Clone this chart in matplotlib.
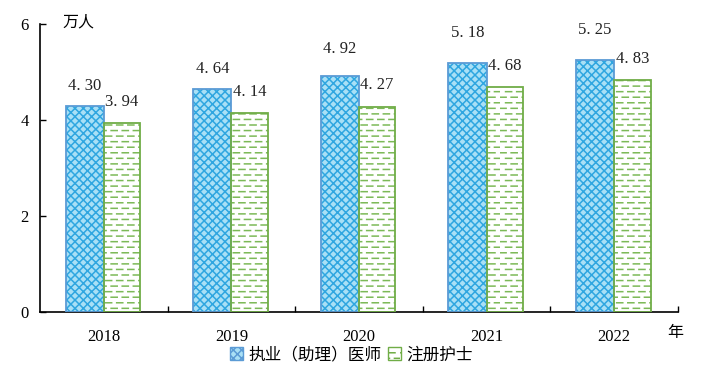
import numpy as np
import matplotlib
matplotlib.use('Agg')
import matplotlib.pyplot as plt
from matplotlib import hatch as mhatch
from matplotlib.patches import Patch

# ---- data ----
years = ['2018', '2019', '2020', '2021', '2022']
doctors = [4.30, 4.64, 4.92, 5.18, 5.25]
nurses = [3.94, 4.14, 4.27, 4.68, 4.83]
series_names = ['执业（助理）医师', '注册护士']
y_ticks = [0, 2, 4, 6]
y_unit = '万人'
x_unit = '年'

# ---- style ----
blue_edge = '#5b9bd5'
blue_face = '#a9e0f6'
blue_hatch = '#2fa6e0'
green_edge = '#70ad47'
green_hatch = '#7cb957'
blue_w, green_w = 0.30, 0.285
blue_off_px = [12, 12, 19, 22, 22]
green_off_px = [13, 13, 14, 13, 13]


# dashed (staggered) horizontal hatch replacing the '-' hatch
class DashedHorizontal(mhatch.HatchPatternBase):
    ndash = 9

    def __init__(self, hatch, density):
        self.num_lines = int((hatch.count('-') + hatch.count('+')) * density)
        self.num_vertices = self.num_lines * self.ndash * 2

    def set_vertices_and_codes(self, vertices, codes):
        steps, stepsize = np.linspace(0.0, 1.0, self.num_lines, False, retstep=True)
        steps += stepsize / 2.
        period = 1.0 / self.ndash
        k = 0
        for i, y in enumerate(steps):
            off = 0.5 * period if i % 2 else 0.0
            for j in range(self.ndash):
                x0 = j * period + off
                vertices[k] = (x0, y)
                vertices[k + 1] = (x0 + 0.55 * period, y)
                codes[k] = matplotlib.path.Path.MOVETO
                codes[k + 1] = matplotlib.path.Path.LINETO
                k += 2


mhatch._hatch_types[:] = [DashedHorizontal if t is mhatch.HorizontalHatch else t
                          for t in mhatch._hatch_types]

plt.rcParams['font.family'] = ['Liberation Serif', 'Noto Sans CJK SC']
plt.rcParams['hatch.linewidth'] = 1.1

fig = plt.figure(figsize=(7.03, 3.81), dpi=100)
ax = fig.add_axes([40 / 703, 1 - 312 / 381, (678 - 40) / 703, (312 - 24) / 381])

x = np.arange(len(years))
# hatched layers
ax.bar(x - blue_w, doctors, width=blue_w, align='edge', facecolor=blue_face,
       edgecolor=blue_hatch, hatch='xxxx', linewidth=0, zorder=2)
ax.bar(x - blue_w, doctors, width=blue_w, align='edge', facecolor='none',
       edgecolor=blue_edge, linewidth=1.3, zorder=3)
ax.bar(x, nurses, width=green_w, align='edge', facecolor='white',
       edgecolor=green_hatch, hatch='---', linewidth=0, zorder=2)
ax.bar(x, nurses, width=green_w, align='edge', facecolor='none',
       edgecolor=green_edge, linewidth=1.3, zorder=3)

for i in range(len(years)):
    ax.annotate(f'{doctors[i]:.2f}'.replace('.', '. '), (x[i] - blue_w / 2, doctors[i]),
                xytext=(0, blue_off_px[i] * 0.72), textcoords='offset points',
                ha='center', va='bottom', fontsize=12, color='#222222')
    ax.annotate(f'{nurses[i]:.2f}'.replace('.', '. '), (x[i] + green_w / 2, nurses[i]),
                xytext=(0, green_off_px[i] * 0.72), textcoords='offset points',
                ha='center', va='bottom', fontsize=12, color='#222222')

ax.set_xlim(-0.5, len(years) - 0.5)
ax.set_ylim(0, 6)
ax.set_yticks(y_ticks)
ax.set_yticklabels([str(t) for t in y_ticks])
ax.set_xticks(x)
ax.set_xticklabels(years)
ax.set_xticks(np.arange(len(years)) + 0.5, minor=True)
ax.tick_params(axis='x', which='major', length=0, pad=12, labelsize=12)
ax.tick_params(axis='x', which='minor', direction='in', length=4.5, width=1)
ax.tick_params(axis='y', direction='in', length=4.5, width=1, pad=8, labelsize=12)

for s in ['top', 'right']:
    ax.spines[s].set_visible(False)
for s in ['left', 'bottom']:
    ax.spines[s].set_linewidth(1.2)
    ax.spines[s].set_color('black')

fig.text(62 / 703, 1 - 22 / 381, y_unit, fontsize=11.5, va='center', ha='left',
         family=['Noto Sans CJK SC'])
fig.text(675 / 703, 1 - 333 / 381, x_unit, fontsize=11.5, va='center', ha='center',
         family=['Noto Sans CJK SC'])

handles = [Patch(facecolor=blue_face, edgecolor=blue_edge, hatch='xxxx', linewidth=1),
           Patch(facecolor='white', edgecolor=green_edge, hatch='---', linewidth=1)]
leg = fig.legend(handles, series_names, loc='center', bbox_to_anchor=(0.5, 1 - 355 / 381),
                 ncol=2, frameon=False, handlelength=0.8, handleheight=0.8,
                 handletextpad=0.3, columnspacing=0.4,
                 prop={'family': ['Noto Sans CJK SC'], 'size': 12})

fig.savefig('out.png', dpi=100)
